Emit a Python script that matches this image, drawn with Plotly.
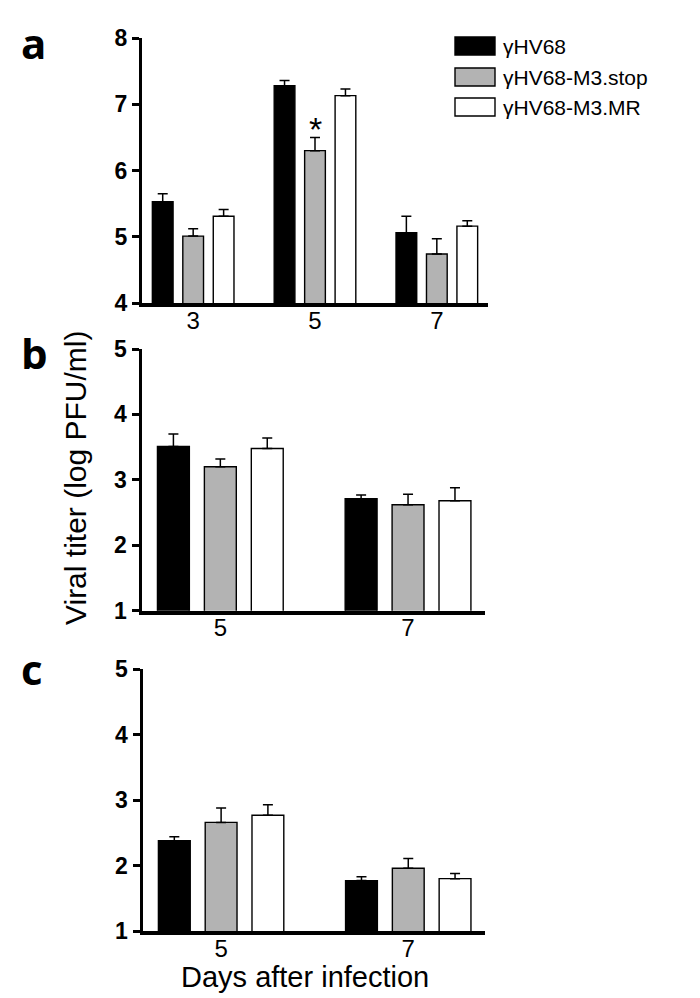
import plotly.graph_objects as go

# ---------------- data ----------------
series_names = ["γHV68", "γHV68-M3.stop", "γHV68-M3.MR"]
series_colors = ["#000000", "#b3b3b3", "#ffffff"]

days_a = ["3", "5", "7"]
a_wt = [5.53, 7.28, 5.06]
a_stop = [5.01, 6.30, 4.74]
a_mr = [5.31, 7.13, 5.16]
a_wt_err = [0.12, 0.08, 0.25]
a_stop_err = [0.11, 0.20, 0.23]
a_mr_err = [0.10, 0.10, 0.08]

days_bc = ["5", "7"]
b_wt = [3.51, 2.71]
b_stop = [3.20, 2.62]
b_mr = [3.48, 2.68]
b_wt_err = [0.19, 0.06]
b_stop_err = [0.12, 0.16]
b_mr_err = [0.16, 0.20]

c_wt = [2.38, 1.77]
c_stop = [2.66, 1.96]
c_mr = [2.77, 1.80]
c_wt_err = [0.06, 0.06]
c_stop_err = [0.22, 0.15]
c_mr_err = [0.16, 0.08]

y_ticks_a = [4, 5, 6, 7, 8]
y_ticks_bc = [1, 2, 3, 4, 5]

W, H = 700, 998
FONT = "Liberation Sans, Arial, sans-serif"

fig = go.Figure()

panels = [
    ("x", "y", days_a, [a_wt, a_stop, a_mr], [a_wt_err, a_stop_err, a_mr_err]),
    ("x2", "y2", days_bc, [b_wt, b_stop, b_mr], [b_wt_err, b_stop_err, b_mr_err]),
    ("x3", "y3", days_bc, [c_wt, c_stop, c_mr], [c_wt_err, c_stop_err, c_mr_err]),
]

for xa, ya, cats, vals, errs in panels:
    for i in range(3):
        fig.add_trace(go.Bar(
            x=cats, y=vals[i], xaxis=xa, yaxis=ya, name=series_names[i],
            showlegend=False,
            marker=dict(color=series_colors[i], line=dict(color="#000000", width=1.4)),
            error_y=dict(type="data", symmetric=False, array=errs[i],
                         arrayminus=[0] * len(errs[i]),
                         color="#000000", thickness=1.5, width=5),
        ))

def px_x(p):
    return p / W

def px_y(p):
    return 1 - p / H

xaxis_common = dict(type="category", showline=True, linewidth=3.5, linecolor="black",
                    ticks="", showgrid=False, zeroline=False, automargin=False,
                    ticklabelstandoff=-7,
                    tickfont=dict(family=FONT, size=24, color="black"),
                    fixedrange=True)
yaxis_common = dict(showline=True, linewidth=3, linecolor="black", ticks="outside",
                    ticklen=7, tickwidth=3, tickcolor="black", showgrid=False,
                    zeroline=False, automargin=False,
                    tickfont=dict(family=FONT, size=23, color="black", weight="bold"),
                    fixedrange=True)

fig.update_layout(
    width=W, height=H,
    margin=dict(l=0, r=0, t=0, b=0, autoexpand=False),
    paper_bgcolor="white", plot_bgcolor="white",
    barmode="group", bargap=0.25, bargroupgap=0.32,
    xaxis=dict(xaxis_common, domain=[px_x(142), px_x(488)], range=[-0.42, 2.42], anchor="y"),
    yaxis=dict(yaxis_common, domain=[px_y(303), px_y(38)], range=[4, 8], tickvals=y_ticks_a, anchor="x"),
    xaxis2=dict(xaxis_common, domain=[px_x(141.5), px_x(485)], range=[-0.42, 1.41], anchor="y2"),
    yaxis2=dict(yaxis_common, domain=[px_y(610.7), px_y(349)], range=[1, 5], tickvals=y_ticks_bc, anchor="x2"),
    xaxis3=dict(xaxis_common, domain=[px_x(142.5), px_x(485)], range=[-0.42, 1.41], anchor="y3"),
    yaxis3=dict(yaxis_common, domain=[px_y(931), px_y(669.3)], range=[1, 5], tickvals=y_ticks_bc, anchor="x3"),
)

# panel letters
for letter, xp, yp in [("a", 33, 42), ("b", 34, 352), ("c", 32, 668)]:
    fig.add_annotation(text=letter, xref="paper", yref="paper", x=px_x(xp), y=px_y(yp),
                       showarrow=False, xanchor="center", yanchor="middle",
                       font=dict(family="Open Sans, sans-serif", size=42, color="black", weight="bold"))

# significance asterisk over gray bar at day 5 (panel a)
fig.add_annotation(text="*", xref="x", yref="y", x=days_a.index("5"),
                   y=a_stop[1] + a_stop_err[1] + 0.12,
                   showarrow=False, yanchor="middle",
                   font=dict(family=FONT, size=34, color="black"))

# axis titles
fig.add_annotation(text="Viral titer (log PFU/ml)", xref="paper", yref="paper",
                   x=px_x(76), y=px_y(478), textangle=-90, showarrow=False,
                   xanchor="center", yanchor="middle",
                   font=dict(family=FONT, size=30, color="black"))
fig.add_annotation(text="Days after infection", xref="paper", yref="paper",
                   x=px_x(305), y=px_y(977), showarrow=False,
                   xanchor="center", yanchor="middle",
                   font=dict(family=FONT, size=29, color="black"))

# manual legend
leg_rows = [46, 77, 107]
for i, yc in enumerate(leg_rows):
    fig.add_shape(type="rect", xref="paper", yref="paper",
                  x0=px_x(455), x1=px_x(495), y0=px_y(yc + 9), y1=px_y(yc - 9),
                  fillcolor=series_colors[i], line=dict(color="black", width=1.4))
    fig.add_annotation(text=series_names[i], xref="paper", yref="paper",
                       x=px_x(501), y=px_y(yc), showarrow=False,
                       xanchor="left", yanchor="middle",
                       font=dict(family=FONT, size=21, color="black"))

fig.write_html("out.html")
